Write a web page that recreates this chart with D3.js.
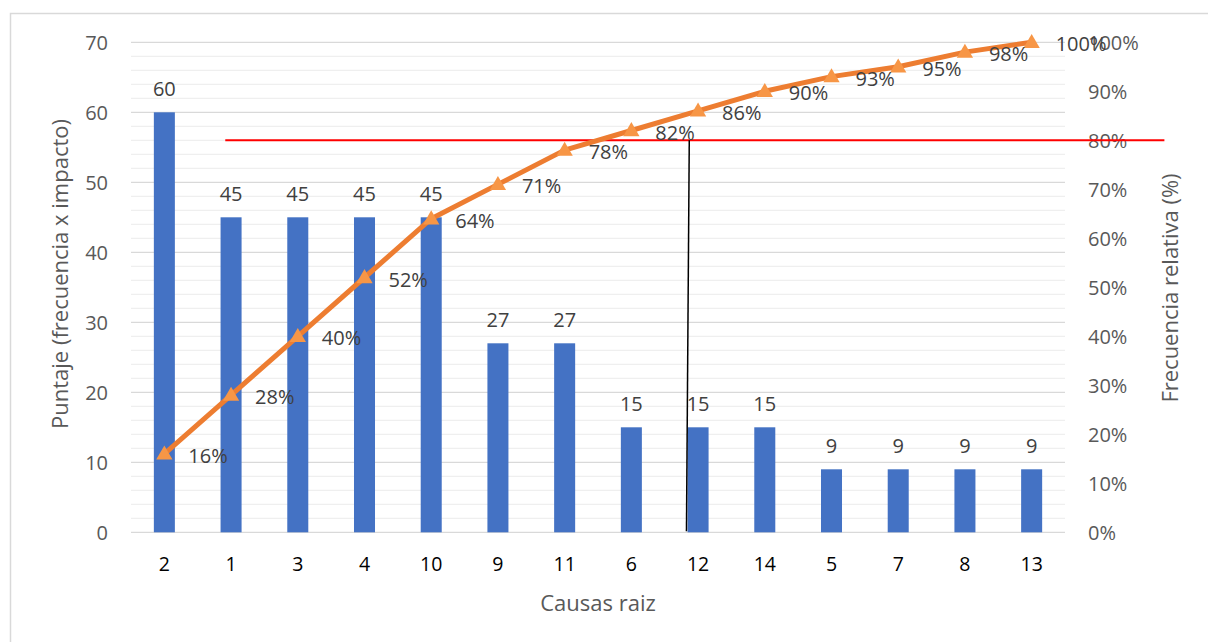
<!DOCTYPE html>
<html>
<head>
<meta charset="utf-8">
<script src="https://cdn.jsdelivr.net/npm/d3@7"></script>
<style>
  html, body { margin: 0; padding: 0; background: #fff; }
  svg { display: block; font-family: "Open Sans", "Noto Sans", sans-serif; }
</style>
</head>
<body>
<svg id="chart" width="1208" height="642"></svg>
<script>
// Pareto data: root causes sorted by score, with cumulative share
const categories = ["2", "1", "3", "4", "10", "9", "11", "6", "12", "14", "5", "7", "8", "13"];
const scores = [60, 45, 45, 45, 45, 27, 27, 15, 15, 15, 9, 9, 9, 9];
const cumulativePct = [16, 28, 40, 52, 64, 71, 78, 82, 86, 90, 93, 95, 98, 100];
const leftTicks = [0, 10, 20, 30, 40, 50, 60, 70];
const rightTicks = [0, 10, 20, 30, 40, 50, 60, 70, 80, 90, 100];

// Reference lines: 80% threshold and the cut marker dropped to the axis
const thresholdPct = 80;
const thresholdSpan = [0.913, 14.99];         // in category-index units
const cutMarker = [[7.826, 0.2], [7.868, 80]];  // [category index, percent]

const svg = d3.select("#chart");
const plot = { left: 131, right: 1065, top: 42.3, bottom: 532.3 };

const x = d3.scaleBand()
  .domain(categories)
  .range([plot.left, plot.right])
  .paddingInner(0.685)
  .paddingOuter(0.685 / 2);
const xi = d3.scaleLinear()
  .domain([0, categories.length - 1])
  .range([x(categories[0]) + x.bandwidth() / 2, x(categories[categories.length - 1]) + x.bandwidth() / 2]);

const y = d3.scaleLinear().domain([0, 70]).range([plot.bottom, plot.top]);
const yPct = d3.scaleLinear().domain([0, 100]).range([plot.bottom, plot.top]);

// Outer chart frame
svg.append("rect")
  .attr("x", 10.5).attr("y", 13.5)
  .attr("width", 1220).attr("height", 660)
  .attr("fill", "none").attr("stroke", "#d9d9d9").attr("stroke-width", 1.5);

// Minor gridlines (every 2) and major gridlines (every 10)
const minor = d3.range(0, 71, 2).filter(v => v % 10 !== 0);
svg.append("g").selectAll("line").data(minor).join("line")
  .attr("x1", plot.left).attr("x2", plot.right)
  .attr("y1", d => y(d)).attr("y2", d => y(d))
  .attr("stroke", "#efefef").attr("stroke-width", 1.3);
svg.append("g").selectAll("line").data(leftTicks).join("line")
  .attr("x1", plot.left).attr("x2", plot.right)
  .attr("y1", d => y(d)).attr("y2", d => y(d))
  .attr("stroke", "#d9d9d9").attr("stroke-width", 1.3);

// Left axis (score)
const leftAxis = svg.append("g")
  .attr("transform", `translate(${plot.left - 23},0)`)
  .call(d3.axisLeft(y).tickValues(leftTicks).tickSize(0).tickPadding(0));
leftAxis.select(".domain").remove();
leftAxis.selectAll("text")
  .attr("fill", "#595959").attr("font-size", 20).attr("font-family", "Open Sans")
  .attr("dy", "0.35em");

// Right axis (cumulative %)
const rightAxis = svg.append("g")
  .attr("transform", `translate(${plot.right + 23},0)`)
  .call(d3.axisRight(yPct).tickValues(rightTicks).tickSize(0).tickPadding(0)
    .tickFormat(d => d + "%"));
rightAxis.select(".domain").remove();
rightAxis.selectAll("text")
  .attr("fill", "#595959").attr("font-size", 20).attr("font-family", "Open Sans")
  .attr("dy", "0.35em");

// Bottom axis (categories)
const bottomAxis = svg.append("g")
  .attr("transform", `translate(0,${plot.bottom})`)
  .call(d3.axisBottom(x).tickSize(0).tickPadding(0));
bottomAxis.select(".domain").remove();
bottomAxis.selectAll("text")
  .attr("fill", "#000").attr("font-size", 19.5).attr("font-family", "Open Sans")
  .attr("dy", 0).attr("y", 39);

// Bars
svg.append("g").selectAll("rect").data(scores).join("rect")
  .attr("x", (d, i) => x(categories[i]))
  .attr("y", d => y(d))
  .attr("width", x.bandwidth())
  .attr("height", d => y(0) - y(d))
  .attr("fill", "#4472c4");

// Bar value labels
svg.append("g").selectAll("text").data(scores).join("text")
  .attr("x", (d, i) => x(categories[i]) + x.bandwidth() / 2)
  .attr("y", d => y(d) - 16)
  .attr("text-anchor", "middle")
  .attr("fill", "#404040").attr("font-size", 20)
  .text(d => d);

// Threshold line at 80%
svg.append("line")
  .attr("x1", xi(thresholdSpan[0])).attr("x2", xi(thresholdSpan[1]))
  .attr("y1", yPct(thresholdPct)).attr("y2", yPct(thresholdPct))
  .attr("stroke", "#ff0000").attr("stroke-width", 2);

// Cut marker
svg.append("line")
  .attr("x1", xi(cutMarker[0][0])).attr("y1", yPct(cutMarker[0][1]))
  .attr("x2", xi(cutMarker[1][0])).attr("y2", yPct(cutMarker[1][1]))
  .attr("stroke", "#000").attr("stroke-width", 1.5);

// Cumulative line
const pts = cumulativePct.map((v, i) => [x(categories[i]) + x.bandwidth() / 2, yPct(v)]);
svg.append("path")
  .attr("d", d3.line()(pts))
  .attr("fill", "none").attr("stroke", "#ed7d31")
  .attr("stroke-width", 5).attr("stroke-linejoin", "round").attr("stroke-linecap", "round");

svg.append("g").selectAll("path").data(pts).join("path")
  .attr("transform", d => `translate(${d[0]},${d[1] + 1})`)
  .attr("d", d3.symbol(d3.symbolTriangle, 115))
  .attr("fill", "#f79646");

// Cumulative percent labels
svg.append("g").selectAll("text").data(cumulativePct).join("text")
  .attr("x", (d, i) => pts[i][0] + 24)
  .attr("y", (d, i) => pts[i][1] + 9)
  .attr("fill", "#404040").attr("font-size", 20)
  .text(d => d + "%");

// Axis titles
svg.append("text")
  .attr("transform", `translate(68,274) rotate(-90)`)
  .attr("text-anchor", "middle")
  .attr("fill", "#595959").attr("font-size", 22)
  .text("Puntaje (frecuencia x impacto)");

svg.append("text")
  .attr("transform", `translate(1177.5,288) rotate(-90)`)
  .attr("text-anchor", "middle")
  .attr("fill", "#595959").attr("font-size", 22)
  .text("Frecuencia relativa (%)");

svg.append("text")
  .attr("x", (plot.left + plot.right) / 2)
  .attr("y", 611)
  .attr("text-anchor", "middle")
  .attr("fill", "#595959").attr("font-size", 22)
  .text("Causas raiz");
</script>
</body>
</html>
